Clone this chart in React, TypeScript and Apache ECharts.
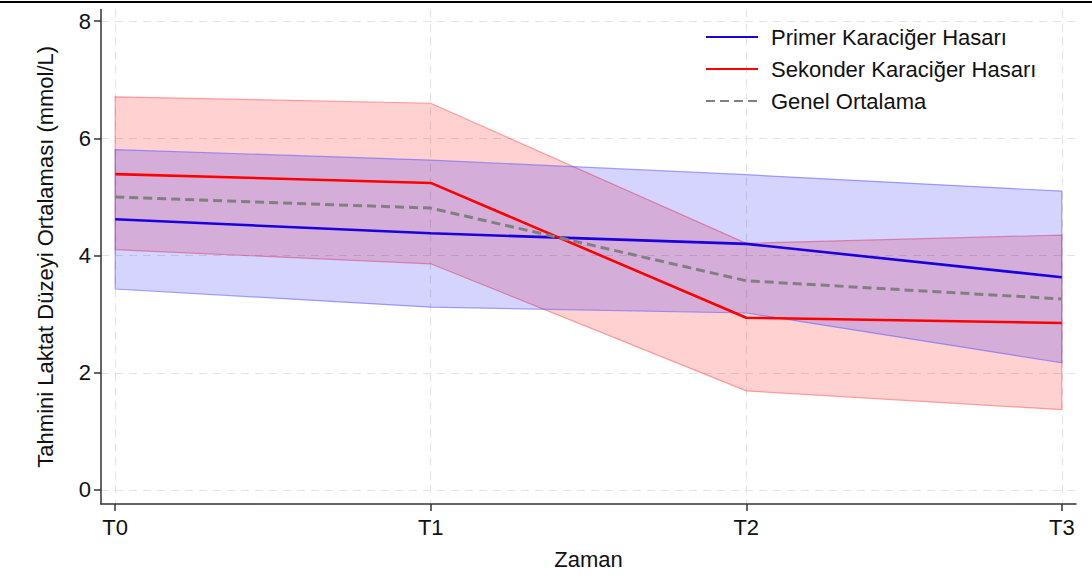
import React, { useEffect, useRef } from "react";
import * as echarts from "echarts";

const timeLabels = ["T0", "T1", "T2", "T3"];
const timeIndex = [0, 1, 2, 3];
const yTicks = [0, 2, 4, 6, 8];

const primerMean = [4.62, 4.38, 4.2, 3.63];
const primerUpper = [5.81, 5.63, 5.38, 5.1];
const primerLower = [3.43, 3.12, 3.02, 2.17];

const sekonderMean = [5.39, 5.24, 2.94, 2.85];
const sekonderUpper = [6.71, 6.6, 4.21, 4.35];
const sekonderLower = [4.1, 3.86, 1.69, 1.37];

const genelMean = [5.0, 4.81, 3.57, 3.26];

const FONT = "Liberation Sans, Arial, Helvetica, sans-serif";

function bandSeries(name: string, upper: number[], lower: number[], fill: string, stroke: string) {
  return {
    name,
    type: "custom",
    silent: true,
    z: 1,
    data: timeIndex.map((x, i) => [x, upper[i], lower[i]]),
    encode: { x: 0, y: [1, 2] },
    renderItem: (params: any, api: any) => {
      if (params.dataIndex !== 0) return null;
      const pts: number[][] = [];
      for (let i = 0; i < timeIndex.length; i++) pts.push(api.coord([timeIndex[i], upper[i]]));
      for (let i = timeIndex.length - 1; i >= 0; i--) pts.push(api.coord([timeIndex[i], lower[i]]));
      return {
        type: "polygon",
        shape: { points: pts },
        style: { fill, stroke, lineWidth: 1.2 },
      };
    },
  };
}

export default function App() {
  const ref = useRef<HTMLDivElement>(null);
  useEffect(() => {
    if (!ref.current) return;
    const chart = echarts.init(ref.current, undefined, { renderer: "svg" });
    const gridLine = { show: true, lineStyle: { color: "#e4e4e4", type: [8, 6], width: 1.2 } };
    chart.setOption({
      animation: false,
      backgroundColor: "#ffffff",
      textStyle: { fontFamily: FONT },
      grid: { left: 101, right: 16, top: 9.5, bottom: 75, containLabel: false },
      legend: {
        orient: "vertical",
        left: 705,
        top: 26,
        padding: 0,
        itemWidth: 52,
        itemHeight: 14,
        itemGap: 10,
        itemStyle: { opacity: 0 },
        data: ["Primer Karaciğer Hasarı", "Sekonder Karaciğer Hasarı", "Genel Ortalama"],
        textStyle: { fontSize: 22, color: "#111", fontFamily: FONT, padding: [0, 0, 0, 8] },
      },
      xAxis: {
        type: "value",
        min: -0.045,
        max: 3.045,
        name: "Zaman",
        nameLocation: "middle",
        nameGap: 44,
        nameTextStyle: { fontSize: 22, color: "#111", fontFamily: FONT },
        axisLine: { show: true, onZero: false, lineStyle: { color: "#333", width: 1.5 } },
        axisTick: { show: true, length: 7, customValues: timeIndex, lineStyle: { color: "#333", width: 1.5 } },
        axisLabel: {
          customValues: timeIndex,
          fontSize: 22,
          color: "#111",
          margin: 12,
          formatter: (v: number) => timeLabels[Math.round(v)] ?? "",
        },
        splitLine: gridLine,
      },
      yAxis: {
        type: "value",
        min: -0.24,
        max: 8.2,
        name: "Tahmini Laktat Düzeyi Ortalaması (mmol/L)",
        nameLocation: "middle",
        nameGap: 45,
        nameTextStyle: { fontSize: 22, color: "#111", fontFamily: FONT },
        axisLine: { show: true, onZero: false, lineStyle: { color: "#333", width: 1.5 } },
        axisTick: { show: true, length: 7, customValues: yTicks, lineStyle: { color: "#333", width: 1.5 } },
        axisLabel: {
          customValues: yTicks,
          fontSize: 22,
          color: "#111",
          margin: 10,
          formatter: (v: number) => String(Math.round(v)),
        },
        splitLine: gridLine,
      },
      graphic: [
        {
          type: "line",
          shape: { x1: 0, y1: 2, x2: 1092, y2: 2 },
          style: { stroke: "#000", lineWidth: 2 },
        },
      ],
      series: [
        bandSeries("sekonderBand", sekonderUpper, sekonderLower, "rgba(255,0,0,0.18)", "rgba(255,90,90,0.55)"),
        bandSeries("primerBand", primerUpper, primerLower, "rgba(0,0,255,0.17)", "rgba(90,90,255,0.55)"),
        {
          name: "Primer Karaciğer Hasarı",
          type: "line",
          z: 5,
          symbol: "none",
          data: timeIndex.map((x, i) => [x, primerMean[i]]),
          lineStyle: { color: "#1a00e0", width: 2.6 },
          itemStyle: { color: "#1a00e0" },
        },
        {
          name: "Sekonder Karaciğer Hasarı",
          type: "line",
          z: 5,
          symbol: "none",
          data: timeIndex.map((x, i) => [x, sekonderMean[i]]),
          lineStyle: { color: "#ff0000", width: 2.6 },
          itemStyle: { color: "#ff0000" },
        },
        {
          name: "Genel Ortalama",
          type: "line",
          z: 6,
          symbol: "none",
          data: timeIndex.map((x, i) => [x, genelMean[i]]),
          lineStyle: { color: "#808080", width: 3, type: [9, 5] },
          itemStyle: { color: "#808080" },
        },
      ],
    });
    return () => chart.dispose();
  }, []);
  return (
    <div
      ref={ref}
      style={{ position: "fixed", left: 0, top: 0, width: 1092, height: 579, background: "#fff" }}
    />
  );
}
